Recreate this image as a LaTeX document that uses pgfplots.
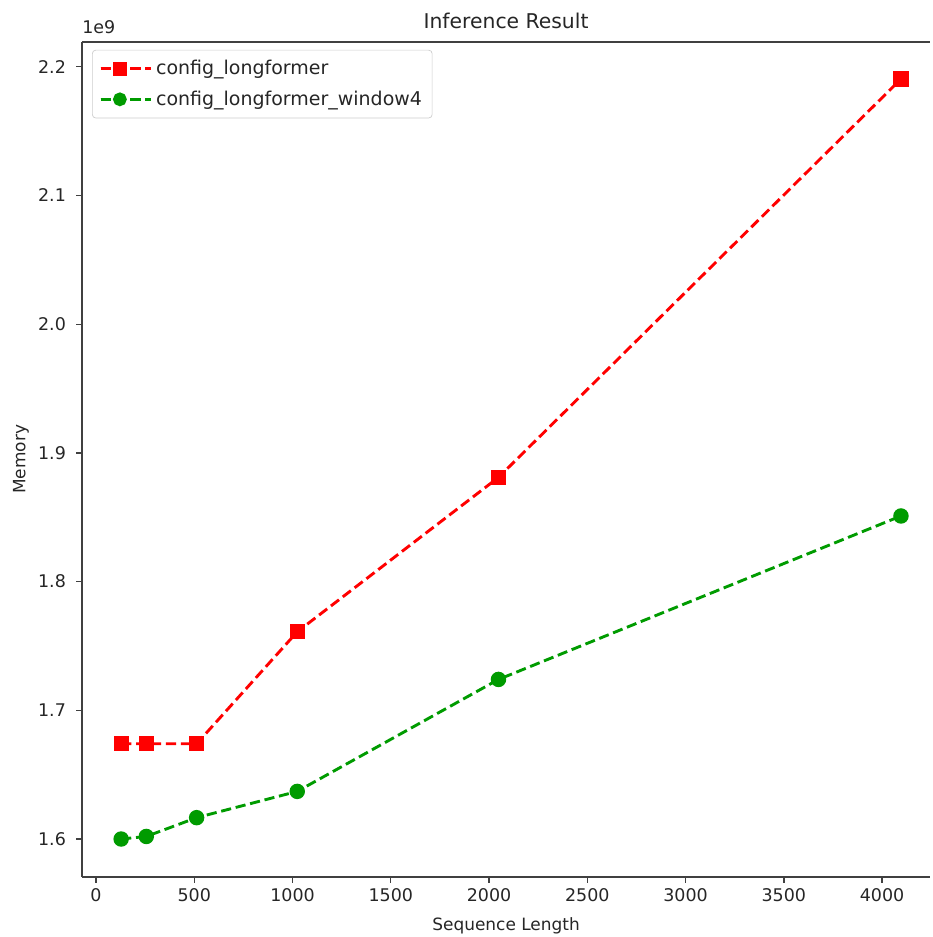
\documentclass[border=0pt]{standalone}
\usepackage{fontspec}
\setmainfont{DejaVu Sans}
\usepackage{pgfplots}
\pgfplotsset{compat=1.18}
\definecolor{mred}{RGB}{255,0,0}
\definecolor{mgreen}{RGB}{0,155,0}
\begin{document}
\begin{tikzpicture}
\begin{axis}[
  width=500.3pt, height=492.7pt, scale only axis,
  xmin=-71, xmax=4244, ymin=1.5705, ymax=2.2194,
  axis x line*=box, axis y line*=left,
  axis line style={-, line width=0.8pt, black!75},
  xtick pos=bottom, ytick pos=left,
  tick align=outside, major tick length=3.5pt,
  tick style={line width=0.8pt, black!75},
  xtick={0,500,1000,1500,2000,2500,3000,3500,4000},
  ytick={1.6,1.7,1.8,1.9,2.0,2.1,2.2},
  yticklabel style={xshift=-2.5pt, /pgf/number format/.cd, fixed, fixed zerofill, precision=1},
  xticklabel style={/pgf/number format/set thousands separator={}},
  /pgf/number format/assume math mode=true,
  ticklabel style={font=\fontsize{10.3}{12}\selectfont, text=black!85},
  xlabel={Sequence Length}, ylabel={Memory},
  label style={font=\fontsize{10}{12}\selectfont, text=black!85},
  xlabel style={yshift=-2pt},
  ylabel style={yshift=-1.5pt},
  title={Inference Result},
  title style={font=\fontsize{12}{14}\selectfont, text=black!85, yshift=-2pt},
  clip=false,
  legend style={at={(0,1)}, anchor=north west, xshift=5.9pt, yshift=-4.7pt,
    draw=black!20, rounded corners=2pt, font=\fontsize{11.2}{13}\selectfont,
    text=black!85, row sep=4pt, inner xsep=4pt, inner ysep=4pt},
  legend cell align=left,
  legend image code/.code={%
    \draw[mark repeat=2,mark phase=2, mark size=3.2pt, mark options={solid}] plot coordinates {(0cm,0cm) (0.4cm,0cm) (0.8cm,0cm)};
    \path (0cm,0cm) -- (1.05cm,0cm);},
]
\addplot[mred, line width=1.7pt, dash pattern=on 6pt off 2.8pt, mark=square*, mark size=3.6pt, mark options={solid}]
  coordinates {(128,1.674) (256,1.674) (512,1.674) (1024,1.761) (2048,1.881) (4096,2.1905)};
\addlegendentry{config\_longformer}
\addplot[mgreen, line width=1.7pt, dash pattern=on 6pt off 2.8pt, mark=*, mark size=3.7pt, mark options={solid}]
  coordinates {(128,1.600) (256,1.602) (512,1.6166) (1024,1.637) (2048,1.724) (4096,1.851)};
\addlegendentry{config\_longformer\_window4}
\node[anchor=base west, inner sep=0pt, font=\fontsize{10.3}{12}\selectfont, text=black!85] at (rel axis cs:0,1) [yshift=5pt] {1e9};
\end{axis}
\pgfresetboundingbox
\path (current axis.south west) ++(-48.4pt,-35.4pt) rectangle ++(549.9pt,552.8pt);
\end{tikzpicture}
\end{document}
